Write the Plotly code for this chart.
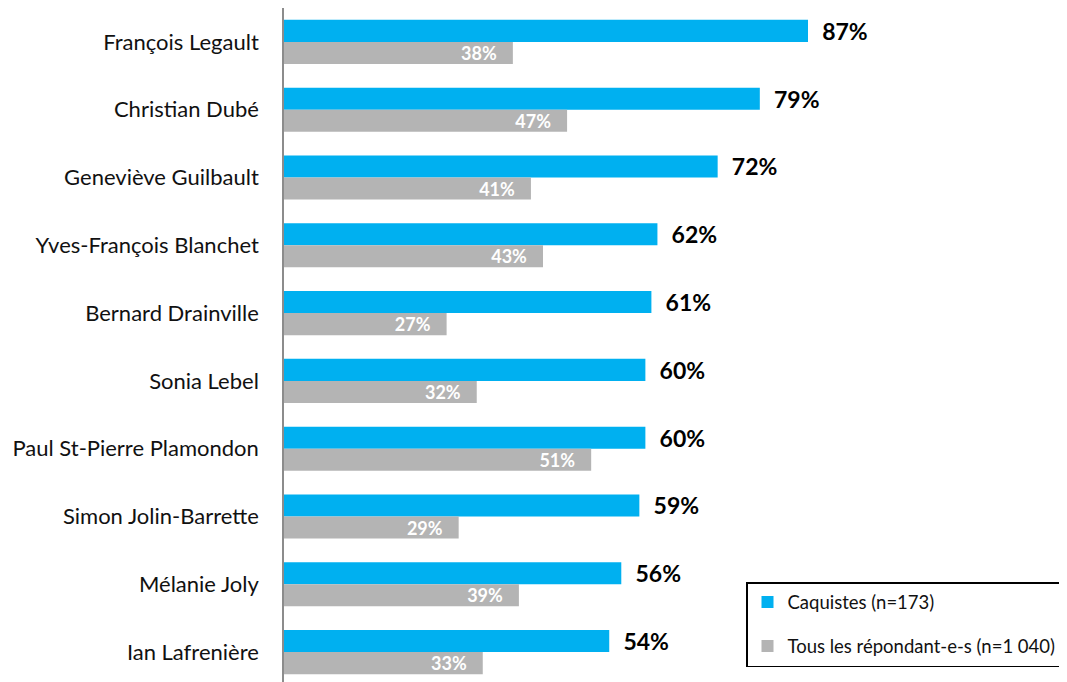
import plotly.graph_objects as go

categories = ["François Legault", "Christian Dubé", "Geneviève Guilbault",
              "Yves-François Blanchet", "Bernard Drainville", "Sonia Lebel",
              "Paul St-Pierre Plamondon", "Simon Jolin-Barrette", "Mélanie Joly",
              "Ian Lafrenière"]
caquistes = [87, 79, 72, 62, 61, 60, 60, 59, 56, 54]
tous = [38, 47, 41, 43, 27, 32, 51, 29, 39, 33]
series_names = ["Caquistes (n=173)", "Tous les répondant-e-s (n=1 040)"]

FONT = "Lato"
fig = go.Figure()
fig.add_trace(go.Bar(
    y=categories, x=caquistes, orientation="h", name=series_names[0],
    marker=dict(color="#00B0F0", line=dict(width=0)),
    texttemplate="\u00a0\u00a0%{x}%", textposition="outside",
    textfont=dict(family=FONT, size=23, color="black", weight="bold"),
    cliponaxis=False, constraintext="none", legendgroup="a",
))
fig.add_trace(go.Bar(
    y=categories, x=tous, orientation="h", name=series_names[1],
    marker=dict(color="#B4B4B4", line=dict(width=0)),
    texttemplate="%{x}%\u00a0\u00a0\u00a0", textposition="inside", insidetextanchor="end",
    textfont=dict(family=FONT, size=18, color="white", weight="bold"),
    constraintext="none", legendgroup="b",
))

# page body has an 8px margin, so the figure is offset by 8px right and down
W, H = 1059, 678
L = 276
plot_w = W - L
fig.update_layout(
    width=W, height=H,
    margin=dict(l=L, r=0, t=0, b=0, autoexpand=False),
    barmode="group", bargap=0.35, bargroupgap=0,
    plot_bgcolor="white", paper_bgcolor="white",
    font=dict(family=FONT, size=22, color="#111"),
    xaxis=dict(range=[0, plot_w / 6.023], showgrid=False, zeroline=False,
               showticklabels=False, showline=False, fixedrange=True, automargin=False),
    yaxis=dict(autorange="reversed", showgrid=False, showline=True,
               linecolor="#8c8c8c", linewidth=1.5, ticks="", automargin=False,
               ticklabelstandoff=19, tickfont=dict(family=FONT, size=22, color="#111")),
    legend=dict(x=(738 - L) / plot_w, y=1 - (574 - 0) / H, xanchor="left", yanchor="top",
                bordercolor="black", borderwidth=1.5, bgcolor="white",
                font=dict(family=FONT, size=18.5, color="#111"),
                tracegroupgap=17, itemwidth=30),
    showlegend=True,
)
fig.write_html("out.html")
